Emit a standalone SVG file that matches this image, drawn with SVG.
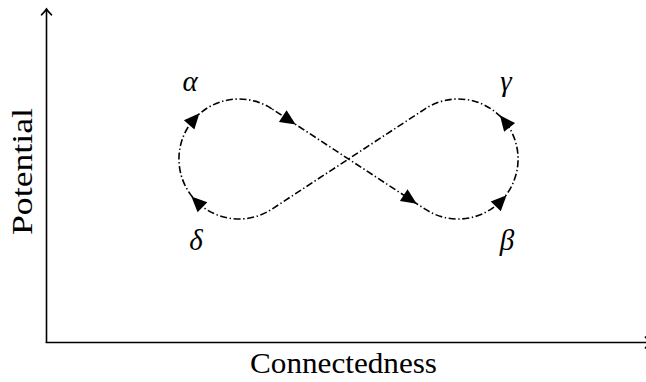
<svg xmlns="http://www.w3.org/2000/svg" width="646" height="382" viewBox="0 0 646 382">
<style>
.axis{stroke:#000;stroke-width:1.6;fill:none}
.curve{stroke:#000;stroke-width:1.6;fill:none;stroke-dasharray:7 2.6 1.4 2.6}
.lbl{font-family:"Liberation Serif","DejaVu Serif",serif;font-size:30px;fill:#000}
.greek{font-family:"Liberation Serif","DejaVu Serif",serif;font-style:italic;font-size:29px;fill:#000;text-anchor:middle}
</style>
<defs>
<polygon id="ah" points="8,0 -7.5,-7 -7.5,7" fill="#000"/>
</defs>
<g id="axes">
<line class="axis" x1="46.5" y1="343" x2="46.5" y2="10"/>
<path class="axis" d="M41.5,14.8 Q45,11.5 46.5,9 Q48,11.5 51.5,14.8" stroke-linecap="round"/>
<line class="axis" x1="45.7" y1="342.5" x2="648" y2="342.5"/>
<path class="axis" d="M645,336.5 Q648,340.5 651,342.5 Q648,344.5 645,348.5"/>
</g>
<g id="connectors">
<path class="curve" d="M271.8,108.8 A60,60 0 1 0 271.8,209.2 L425.2,108.8 A60,60 0 1 1 425.2,209.2 Z"/>
<use href="#ah" transform="translate(194.1,119.3) rotate(-48.5)"/>
<use href="#ah" transform="translate(289,120.2) rotate(33.2)"/>
<use href="#ah" transform="translate(410,199.3) rotate(33.2)"/>
<use href="#ah" transform="translate(501,200.9) rotate(-45.7)"/>
<use href="#ah" transform="translate(504.9,121.5) rotate(-128.7)"/>
<use href="#ah" transform="translate(197.1,202) rotate(-135.7)"/>
</g>
<g id="labels">
<text class="lbl" x="250" y="373" textLength="187" lengthAdjust="spacingAndGlyphs">Connectedness</text>
<text class="lbl" transform="translate(32,235) rotate(-90)" textLength="127" lengthAdjust="spacingAndGlyphs">Potential</text>
<text class="greek" x="190" y="91">α</text>
<text class="greek" x="506" y="91">γ</text>
<text class="greek" x="196" y="250">δ</text>
<text class="greek" x="507" y="250">β</text>
</g>
</svg>
